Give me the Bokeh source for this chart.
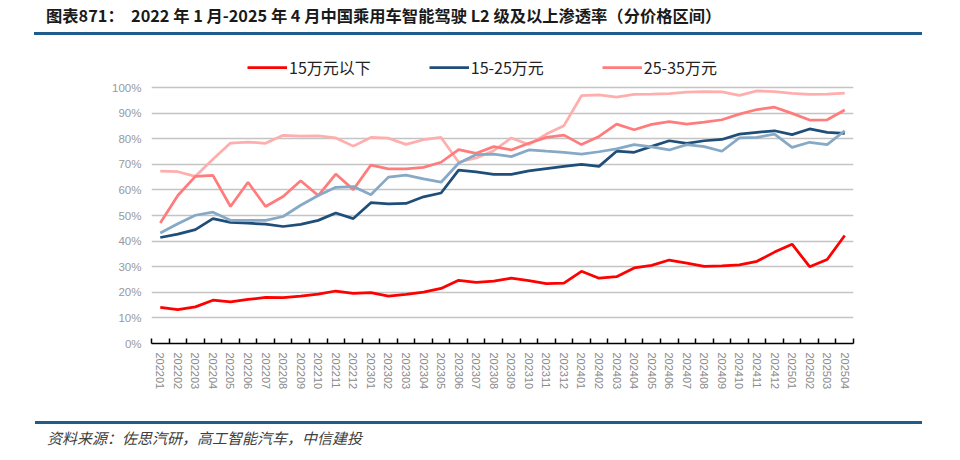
from bokeh.plotting import figure
from bokeh.models import (Range1d, FixedTicker, PrintfTickFormatter, Legend,
                          LegendItem, Div)
from bokeh.layouts import column
from bokeh.embed import file_html
from bokeh.resources import INLINE

months = ["202201", "202202", "202203", "202204", "202205", "202206", "202207", "202208",
          "202209", "202210", "202211", "202212", "202301", "202302", "202303", "202304",
          "202305", "202306", "202307", "202308", "202309", "202310", "202311", "202312",
          "202401", "202402", "202403", "202404", "202405", "202406", "202407", "202408",
          "202409", "202410", "202411", "202412", "202501", "202502", "202503", "202504"]

under15 = [14.1, 13.2, 14.3, 16.9, 16.3, 17.2, 18.0, 17.9, 18.5, 19.3, 20.5, 19.6, 19.9, 18.5,
           19.2, 20.1, 21.5, 24.7, 23.9, 24.4, 25.5, 24.6, 23.4, 23.6, 28.2, 25.5, 26.1, 29.5,
           30.5, 32.6, 31.4, 30.1, 30.3, 30.7, 32.1, 35.7, 38.8, 30.0, 32.8, 42.2]

r15_25 = [41.4, 42.7, 44.5, 48.8, 47.3, 47.0, 46.6, 45.7, 46.5, 48.1, 51.0, 48.8, 55.0, 54.5,
          54.7, 57.3, 58.8, 67.7, 67.0, 66.1, 66.1, 67.4, 68.3, 69.2, 70.0, 69.2, 75.1, 74.7,
          77.0, 79.2, 78.2, 79.2, 79.7, 81.8, 82.5, 83.1, 81.6, 83.8, 82.5, 82.1]

r25_35 = [47.1, 57.8, 65.3, 65.7, 53.5, 63.0, 53.5, 57.4, 63.6, 57.8, 66.2, 60.1, 69.7, 68.2,
          68.2, 68.8, 70.8, 75.7, 74.3, 76.9, 75.6, 78.2, 80.5, 81.4, 77.7, 80.9, 85.7, 83.5,
          85.6, 86.7, 85.7, 86.5, 87.4, 89.6, 91.4, 92.3, 89.9, 87.3, 87.4, 91.2]

series_top = [67.3, 67.1, 65.3, 72.0, 78.3, 78.7, 78.2, 81.3, 81.0, 81.1, 80.3, 77.1, 80.5, 80.2,
              77.8, 79.6, 80.5, 70.8, 72.5, 75.3, 80.3, 77.7, 81.8, 85.1, 96.8, 97.1, 96.2, 97.3,
              97.4, 97.6, 98.2, 98.4, 98.3, 96.9, 98.7, 98.4, 97.7, 97.3, 97.4, 97.8]

series_grey = [43.2, 46.8, 50.1, 51.3, 48.1, 48.1, 48.1, 49.6, 54.0, 57.8, 61.0, 61.3, 58.1, 65.0,
               65.8, 64.3, 63.0, 70.4, 73.8, 74.0, 73.0, 75.6, 75.1, 74.7, 74.0, 74.9, 76.0, 77.7,
               76.8, 75.6, 77.7, 76.9, 75.1, 80.3, 80.5, 81.8, 76.6, 78.6, 77.7, 83.1]

y_ticks = [0, 10, 20, 30, 40, 50, 60, 70, 80, 90, 100]

title_text = "图表871：&nbsp; 2022 年 1 月-2025 年 4 月中国乘用车智能驾驶 L2 级及以上渗透率（分价格区间）"
source_text = "资料来源：佐思汽研，高工智能汽车，中信建投"

W = 944
x = list(range(len(months)))

# frame: 0% .. 100% spans 256 px; frame extends above 100% to hold the legend
px_per_unit = 2.56
frame_h = 293
y_top = frame_h / px_per_unit

p = figure(width=W, height=372, frame_width=702, frame_height=frame_h,
           min_border_left=151, min_border_right=91, min_border_top=7, min_border_bottom=72,
           x_range=Range1d(-0.5, len(months) - 0.5), y_range=Range1d(0, y_top),
           output_backend="svg", toolbar_location=None)
p.outline_line_color = None
p.background_fill_color = "white"

# x axis
p.xaxis.ticker = FixedTicker(ticks=x, minor_ticks=[i - 0.5 for i in range(len(months) + 1)])
p.xaxis.major_label_overrides = {i: m for i, m in enumerate(months)}
p.xaxis.major_label_orientation = "vertical"
p.xaxis.major_tick_line_color = None
p.xaxis.major_tick_out = 0
p.xaxis.major_tick_in = 0
p.xaxis.minor_tick_line_color = "black"
p.xaxis.minor_tick_in = 5
p.xaxis.minor_tick_out = 0
p.xaxis.minor_tick_line_width = 1.5
p.xaxis.axis_line_color = "black"
p.xaxis.axis_line_width = 1.5
p.xaxis.major_label_text_font = "Liberation Sans"
p.xaxis.major_label_text_font_size = "11px"
p.xaxis.major_label_text_color = "#8a8a8a"
p.xaxis.major_label_standoff = 9

# y axis
p.yaxis.ticker = FixedTicker(ticks=y_ticks)
p.yaxis.formatter = PrintfTickFormatter(format="%d%%")
p.yaxis.axis_line_color = None
p.yaxis.major_tick_line_color = None
p.yaxis.major_tick_out = 0
p.yaxis.major_tick_in = 0
p.yaxis.minor_tick_line_color = None
p.yaxis.major_label_text_font = "Liberation Sans"
p.yaxis.major_label_text_font_size = "11.5px"
p.yaxis.major_label_text_color = "#999999"
p.yaxis.major_label_standoff = 10

p.xgrid.visible = False
p.ygrid.grid_line_color = "#C4C4C4"
p.ygrid.grid_line_width = 1.5

lw = 2.75
r_top = p.line(x, series_top, line_color="#FFAEAE", line_width=lw)
r_2535 = p.line(x, r25_35, line_color="#FF7C7C", line_width=lw)
r_1525 = p.line(x, r15_25, line_color="#1F4E79", line_width=lw)
r_grey = p.line(x, series_grey, line_color="#86A9C6", line_width=lw)
r_u15 = p.line(x, under15, line_color="#FF0000", line_width=lw)

legend = Legend(items=[LegendItem(label="15万元以下", renderers=[r_u15]),
                       LegendItem(label="15-25万元", renderers=[r_1525]),
                       LegendItem(label="25-35万元", renderers=[r_2535])],
                orientation="horizontal", location=(96, 264),
                label_text_font="Noto Sans CJK SC", label_text_font_size="16px",
                label_text_color="#222222", glyph_width=40, glyph_height=20,
                label_standoff=2, spacing=58, padding=0, margin=0,
                border_line_color=None, background_fill_alpha=0)
p.add_layout(legend)

title_div = Div(width=W, height=33, text=(
    '<div style="margin-left:29px;width:888px;height:30px;border-bottom:3px solid #1F5C8C;'
    "font-family:'Noto Sans CJK SC';font-weight:bold;font-size:16.3px;line-height:20px;"
    'color:#1a1a1a;white-space:nowrap;">'
    '<span style="display:inline-block;margin-left:12px;">' + title_text + '</span></div>'))

source_div = Div(width=W, height=36, text=(
    '<div style="margin-left:30px;margin-top:1px;width:887px;border-top:3px solid #1F5C8C;'
    "font-family:'Noto Sans CJK SC';"
    'font-style:italic;font-size:15px;line-height:20px;color:#404040;white-space:nowrap;">'
    '<span style="display:inline-block;margin-left:12px;margin-top:4px;">'
    + source_text + '</span></div>'))

layout = column(title_div, p, source_div, spacing=0)

open("out.html", "w").write(file_html(layout, INLINE))
